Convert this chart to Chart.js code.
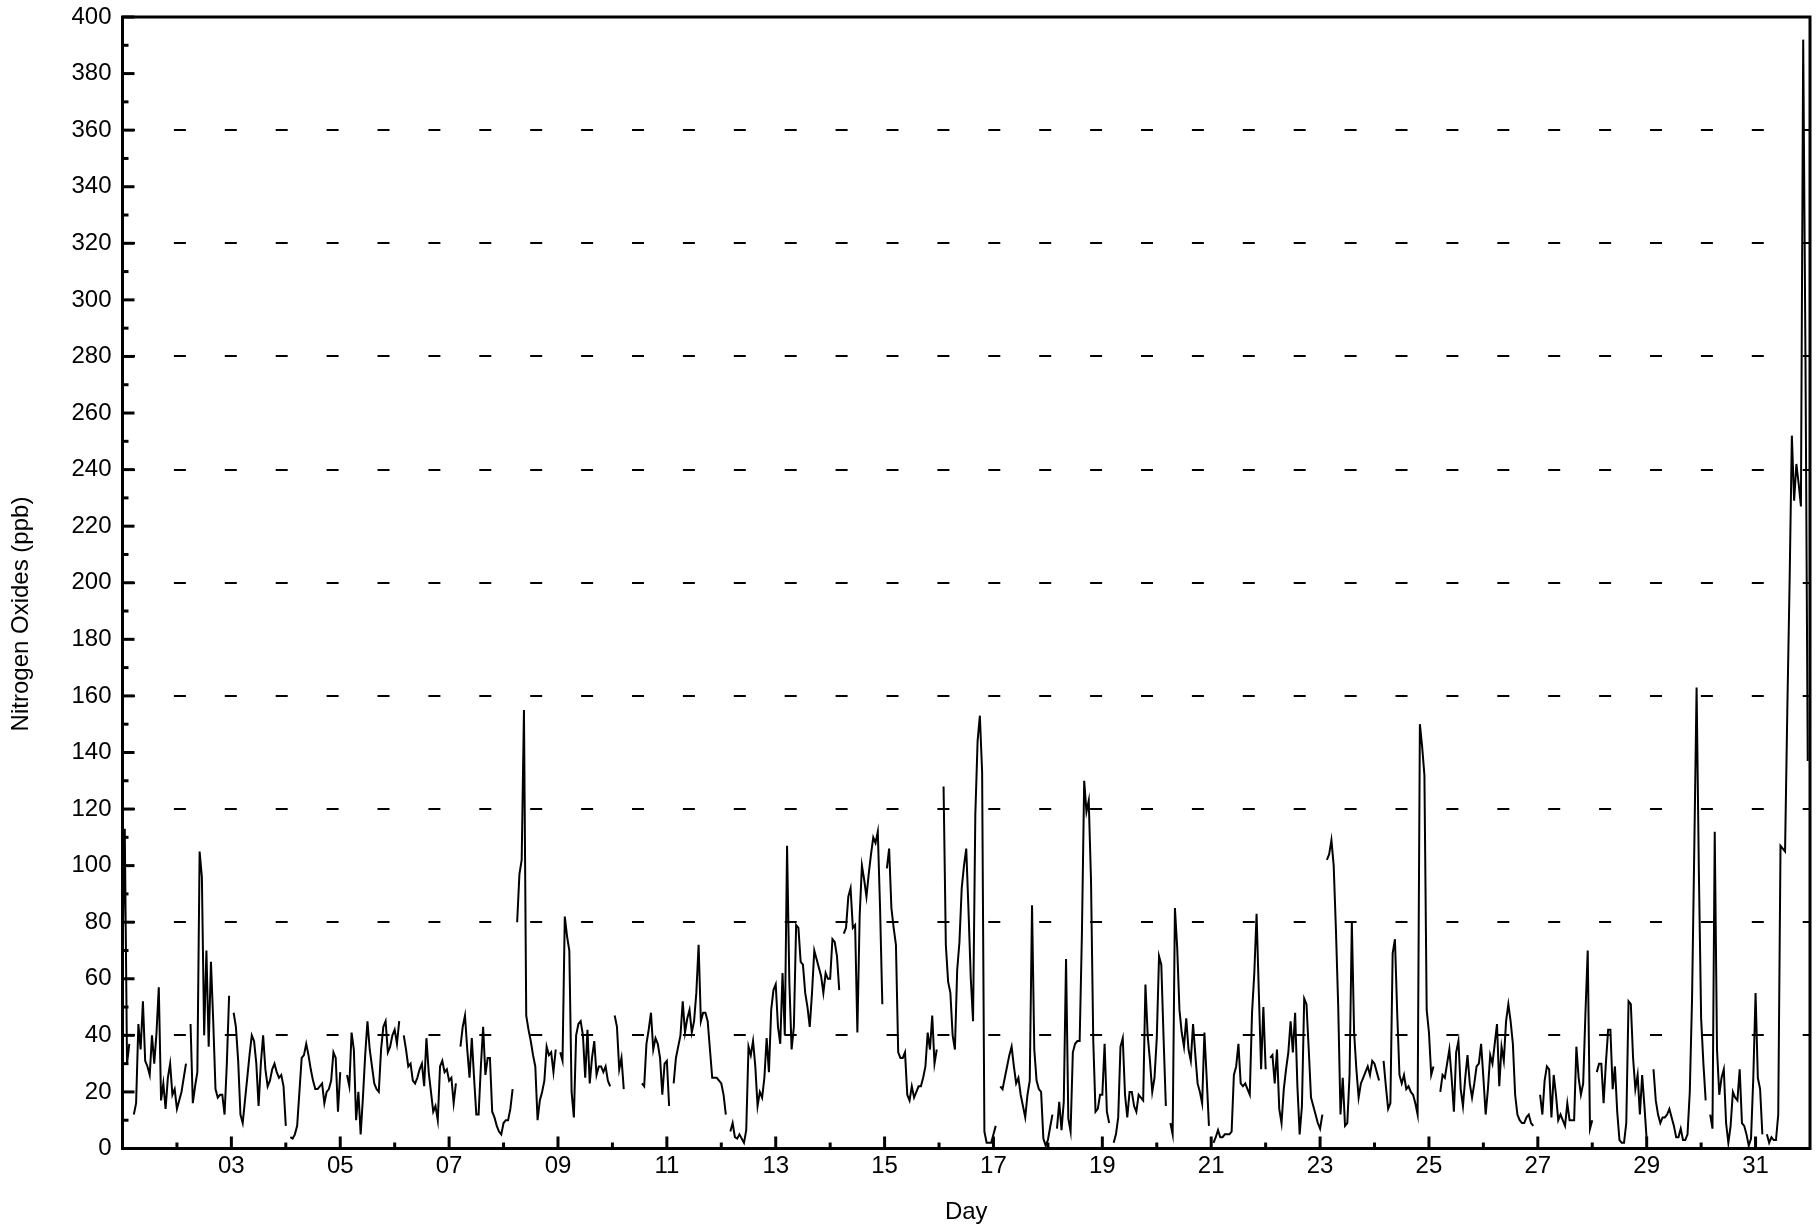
<!DOCTYPE html>
<html>
<head>
<meta charset="utf-8">
<title>Nitrogen Oxides - hourly</title>
<script src="https://cdn.jsdelivr.net/npm/chart.js@4.4.1/dist/chart.umd.min.js"></script>
<style>
  html, body { margin: 0; padding: 0; background: #ffffff; }
  #wrap { width: 1819px; height: 1228px; }
</style>
</head>
<body>
<div id="wrap"><canvas id="nox-chart" width="1819" height="1228"></canvas></div>
<script>
// Hourly NOx readings (ppb), one array per day, hours 00..23.
// null = missing hour (the line breaks there)
const d01 = [67, 113, 30, 37, null, 12, 16, 44, 35, 52, 31, 29, 26, 40, 30, 41, 57, 17, 23, 14, 25, 30, 19, 21];
const d02 = [14, 17, 20, 25, 30, null, 44, 16, 22, 27, 105, 96, 40, 70, 36, 66, 45, 21, 18, 19, 19, 12, 30, 54];
const d03 = [null, 48, 43, 31, 12, 9, 17, 25, 33, 40, 38, 30, 15, 30, 40, 28, 22, 24, 28, 30, 27, 25, 26, 22];
const d04 = [8, null, 4, 3.5, 5, 8, 20, 32, 33, 37, 33, 28, 24, 21, 21, 22, 23, 16, 20, 21, 24, 34, 32, 13];
const d05 = [27, null, null, 26, 22, 41, 35, 10, 20, 5, 18, 33, 45, 35, 29, 23, 21, 20, 35, 43, 45, 34, 36, 40];
const d06 = [42, 37, 45, null, 40, 35, 29, 30, 24, 23, 25, 28, 30, 22, 39, 27, 20, 13, 15, 10, 29, 31, 27, 28];
const d07 = [24, 25, 16, 23, null, 36, 43, 47, 35, 25, 39, 25, 12, 12, 29, 43, 26, 32, 32, 13, 11, 8, 6, 5];
const d08 = [9, 10, 10, 14, 21, null, 80, 97, 102, 155, 47, 42, 38, 33, 29, 10, 17, 20, 24, 36, 33, 34, 27, 35];
const d09 = [null, 34, 31, 82, 75, 70, 20, 11, 40, 44, 45, 40, 25, 42, 23, 32, 38, 26, 29, 29, 27, 29, 24, 22];
const d10 = [null, 47, 43, 28, 32, 21, null, null, null, null, null, null, null, 23, 22, 37, 42, 48, 35, 39, 37, 32, 19, 30];
const d11 = [31, 15, null, 23, 32, 36, 40, 52, 41, 46, 49, 41, 45, 55, 72, 45, 48, 48, 45, 35, 25, 25, 25, 24];
const d12 = [23, 19, 12, null, 6, 9, 4, 3.5, 5, 3.5, 2, 6.5, 36, 33, 38, 29, 15, 20, 18, 25, 39, 27, 49, 56];
const d13 = [58, 43, 37, 62, 40, 107, 59, 35, 43, 79, 78, 66, 65, 55, 50, 43, 55, 70, 67, 64, 61, 55, 62, 60];
const d14 = [60, 74, 73, 68, 56, null, 76, 78, 89, 92, 78, 79, 41, 82, 100, 95, 89, 97, 104, 110, 108, 112, 85, 51];
const d15 = [null, 99, 106, 85, 78, 72, 34, 32, 32, 34, 19, 17, 22, 18, 20, 22, 22, 25, 29, 41, 35, 47, 30, 35];
const d16 = [null, null, 128, 72, 59, 55, 40, 35, 63, 73, 92, 100, 106, 84, 60, 45, 118, 144, 153, 133, 6, 2, 2, 2];
const d17 = [5, 8, null, 22, 21, 25, 29, 33, 36, 29, 23, 25, 19, 15, 11, 19, 24, 86, 35, 24, 21, 20, 3.5, 1];
const d18 = [3, 7.6, 12, null, 7, 16.5, 6.5, 16.5, 67, 10.6, 6, 34, 37, 38, 38, 76, 130, 119, 123, 95, 38, 13, 14, 19];
const d19 = [19, 37, 13, 9, null, 2, 5, 11, 36, 39, 19, 11, 20, 20, 15, 13, 19, 18, 17, 58, 40, 31, 20, 25];
const d20 = [39, 68, 65, 39, 15, null, 9, 5, 85, 71, 49, 41, 36, 46, 35, 31, 44, 33, 23, 20, 16, 41, 25, 8];
const d21 = [null, 2, 4, 6.5, 4, 4, 5, 5, 5, 6, 26, 29, 37, 23, 22, 23, 21, 19, 48, 62, 83, 55, 28, 50];
const d22 = [28, null, 32, 33, 23, 35, 14, 9, 21, 28, 34, 45, 34, 48, 22, 5, 15, 53, 51, 35, 18, 15, 12, 9];
const d23 = [7, 12, null, 102, 104, 109, 100, 77, 50, 12, 25, 8, 9, 26, 80, 41, 28, 18, 23, 25, 27, 29, 26, 31];
const d24 = [30, 27, 24, null, 31, 22, 14, 16, 69, 74, 48, 26, 23, 26, 21, 22, 20, 19, 16, 12, 150, 142, 132, 49];
const d25 = [41, 26, 29, null, null, 20, 26, 25, 30, 35, 25, 13, 34, 38, 21, 15, 25, 33, 23, 18, 23, 29, 30, 37];
const d26 = [25, 12, 21, 33, 30, 37, 44, 22, 36, 31, 45, 51, 45, 37, 19, 12, 10, 9, 9, 11, 12, 9, 8, null];
const d27 = [null, 19, 12, 24, 29, 28, 11, 26, 19, 10, 12, 10, 8, 16, 10, 10, 10, 36, 25, 19, 23, 48, 70, 7];
const d28 = [10, null, 27, 30, 30, 16, 30, 42, 42, 21, 29, 13, 3, 2, 2, 9, 52, 51, 32, 21, 26, 12, 26, 15];
const d29 = [3, null, null, 28, 17, 12, 9, 11, 11, 12, 14, 11, 8, 4, 4, 7, 3, 3, 5, 20, 53, 107, 163, 98];
const d30 = [46, 30, 17, null, 12, 7, 112, 35, 19, 25, 28, 9, 2, 8, 20, 18, 17, 28, 9, 8, 5, 1, 3.5, 25];
const d31 = [55, 25, 21, 5, null, 5, 2, 4, 3, 3, 12, 107, 106, 105, 155, 200, 252, 229, 242, 235, 227, 392, 280, 137];

const hourlyByDay = [d01, d02, d03, d04, d05, d06, d07, d08, d09, d10, d11, d12, d13, d14, d15, d16,
                     d17, d18, d19, d20, d21, d22, d23, d24, d25, d26, d27, d28, d29, d30, d31];

// Axis set-up
const labelledDays = [3, 5, 7, 9, 11, 13, 15, 17, 19, 21, 23, 25, 27, 29, 31];
const dashedLevels = [40, 80, 120, 160, 200, 240, 280, 320, 360];
const yTitle = 'Nitrogen Oxides (ppb)';
const xTitle = 'Day';

const FONT = '"Liberation Sans", Arial, Helvetica, sans-serif';
const FONT_SIZE = 24;

// Day number + hour/24 gives the x position
const points = [];
hourlyByDay.forEach((values, i) => {
    values.forEach((v, h) => points.push({ x: i + 1 + h / 24, y: v }));
});

// Inward tick marks, plot frame and the y title
const frameAndTicks = {
    id: 'frameAndTicks',
    afterDraw(chart) {
        const { ctx, chartArea: a, scales: { x, y } } = chart;
        ctx.save();
        ctx.strokeStyle = '#000';
        ctx.lineWidth = 3;

        for (let v = 0; v <= 400; v += 10) {
            const py = y.getPixelForValue(v);
            const len = v % 20 === 0 ? 12 : 6;
            ctx.beginPath();
            ctx.moveTo(a.left, py);
            ctx.lineTo(a.left + len, py);
            ctx.stroke();
        }

        for (let d = 2; d <= 31; d++) {
            const px = x.getPixelForValue(d);
            const len = labelledDays.includes(d) ? 12 : 6;
            ctx.beginPath();
            ctx.moveTo(px, a.bottom);
            ctx.lineTo(px, a.bottom - len);
            ctx.stroke();
        }

        ctx.strokeRect(a.left, a.top, a.right - a.left, a.bottom - a.top);

        ctx.fillStyle = '#000';
        ctx.font = FONT_SIZE + 'px ' + FONT;
        ctx.textAlign = 'center';
        ctx.textBaseline = 'middle';
        ctx.translate(21, chart.height / 2);
        ctx.rotate(-Math.PI / 2);
        ctx.fillText(yTitle, 0, 0);
        ctx.restore();
    }
};

new Chart(document.getElementById('nox-chart'), {
    type: 'line',
    data: {
        datasets: [{
            label: 'NOx',
            data: points,
            borderColor: '#000',
            borderWidth: 2,
            pointRadius: 0,
            tension: 0,
            spanGaps: false
        }]
    },
    options: {
        responsive: false,
        animation: false,
        events: [],
        layout: { padding: { top: 17, right: 9, bottom: 0, left: 0 } },
        plugins: {
            legend: { display: false },
            tooltip: { enabled: false }
        },
        scales: {
            x: {
                type: 'linear',
                min: 1,
                max: 32,
                afterFit: s => {
                    s.height = 79.5;
                    s.paddingLeft = 0;
                    s.paddingRight = 0;
                },
                grid: { display: false, drawTicks: false },
                border: { display: false },
                ticks: {
                    stepSize: 1,
                    autoSkip: false,
                    maxRotation: 0,
                    padding: 3,
                    color: '#000',
                    font: { family: FONT, size: FONT_SIZE },
                    callback: v => labelledDays.includes(v) ? String(v).padStart(2, '0') : ''
                },
                title: {
                    display: true,
                    text: xTitle,
                    color: '#000',
                    font: { family: FONT, size: FONT_SIZE },
                    padding: { top: 0, bottom: 1 }
                }
            },
            y: {
                min: 0,
                max: 400,
                afterFit: s => {
                    s.width = 122.5;
                    s.paddingTop = 0;
                    s.paddingBottom = 0;
                },
                grid: {
                    drawTicks: false,
                    lineWidth: 2,
                    color: c => dashedLevels.includes(c.tick.value) ? '#000' : 'rgba(0,0,0,0)'
                },
                border: { display: false, dash: [12, 38.9], dashOffset: 0 },
                ticks: {
                    stepSize: 20,
                    padding: 11,
                    color: '#000',
                    font: { family: FONT, size: FONT_SIZE }
                }
            }
        }
    },
    plugins: [frameAndTicks]
});
</script>
</body>
</html>
